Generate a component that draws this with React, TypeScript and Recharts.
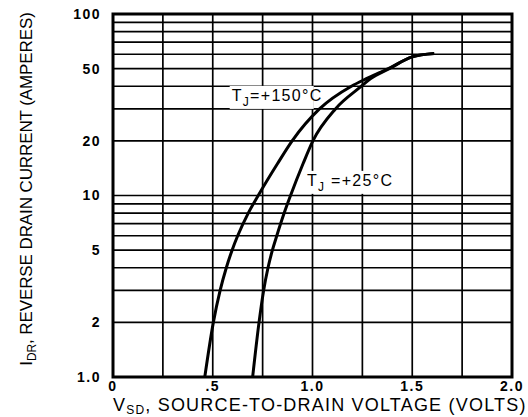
/**
 * Reverse drain current vs source-to-drain voltage (body diode), log current axis.
 * Two junction temperatures, datasheet-style black grid.
 */
import { LineChart, Line, XAxis, YAxis, CartesianGrid, ReferenceArea, ReferenceDot } from "recharts";

// I_DR levels (A) shared by both curves, and V_SD (V)
const currentLevels = [1, 2, 3, 4, 5, 6, 8, 10, 15, 20, 30, 40, 44, 50, 58, 60.5];
const vsd150 = [0.46, 0.503, 0.537, 0.568, 0.597, 0.625, 0.678, 0.728, 0.825, 0.898, 1.035, 1.195, 1.27, 1.38, 1.5, 1.61];
const vsd25 = [0.7, 0.732, 0.755, 0.777, 0.799, 0.821, 0.858, 0.89, 0.953, 1.002, 1.115, 1.245, 1.29, 1.385, 1.5, 1.61];

const xTicks = [0, 0.25, 0.5, 0.75, 1, 1.25, 1.5, 1.75, 2];
const xTickLabels: Record<string, string> = { "0": "0", "0.5": ".5", "1": "1.0", "1.5": "1.5", "2": "2.0" };
const yTicks = [1, 2, 3, 4, 5, 6, 7, 8, 9, 10, 20, 30, 40, 50, 60, 70, 80, 90, 100];
const yTickLabels: Record<string, string> = { "1": "1.0", "2": "2", "5": "5", "10": "10", "20": "20", "50": "50", "100": "100" };

const data150 = currentLevels.map((i, k) => ({ v: vsd150[k], i }));
const data25 = currentLevels.map((i, k) => ({ v: vsd25[k], i }));

const FONT = "'Liberation Sans', Arial, Helvetica, sans-serif";

function TjLabel({ cx, cy, temp, gap, boxW }: any) {
  if (cx == null || cy == null) return null;
  return (
    <g>
      <rect x={cx - 2} y={cy - 15} width={boxW} height={23} fill="#fff" />
      <text x={cx} y={cy} fontSize={16} fontFamily={FONT} fill="#000" letterSpacing={1.3}>
        T
        <tspan dy={5} fontSize={12}>J</tspan>
        <tspan dy={-5}>{gap ? " " : ""}={temp}°C</tspan>
      </text>
    </g>
  );
}

function XTitle({ viewBox }: any) {
  const { x, y } = viewBox;
  return (
    <text x={x} y={y + 34} fontSize={18} fontFamily={FONT} fill="#000" letterSpacing={1.2}>
      V<tspan dy={3} fontSize={12}>SD</tspan>
      <tspan dy={-3}>, SOURCE-TO-DRAIN VOLTAGE (VOLTS)</tspan>
    </text>
  );
}

function YTitle() {
  const cy = 189;
  return (
    <text x={32} y={cy} transform={`rotate(-90, 32, ${cy})`} textAnchor="middle" fontSize={17} fontFamily={FONT} fill="#000" letterSpacing={-0.1}>
      I<tspan dy={4} fontSize={12}>DR</tspan>
      <tspan dy={-4}>, REVERSE DRAIN CURRENT (AMPERES)</tspan>
    </text>
  );
}

export default function App() {
  return (
    <div style={{ position: "absolute", left: 0, top: 0, background: "#fff" }}>
      <LineChart width={528} height={417} margin={{ top: 14, right: 16, left: 0, bottom: 0 }}>
        <CartesianGrid stroke="#000" strokeWidth={1.7} />
        <XAxis
          dataKey="v"
          type="number"
          domain={[0, 2]}
          ticks={xTicks}
          interval={0}
          height={40}
          tickLine={false}
          axisLine={false}
          tickSize={0}
          tickMargin={4}
          tickFormatter={(t: number) => xTickLabels[String(t)] ?? ""}
          tick={{ fill: "#000", fontSize: 14, fontWeight: 700, fontFamily: FONT, letterSpacing: 1.5 }}
          allowDataOverflow
          label={{ content: XTitle }}
        />
        <YAxis
          dataKey="i"
          scale="log"
          domain={[1, 100]}
          ticks={yTicks}
          interval={0}
          width={113}
          tickLine={false}
          axisLine={false}
          tickSize={0}
          tickMargin={12}
          tickFormatter={(t: number) => yTickLabels[String(t)] ?? ""}
          tick={{ fill: "#000", fontSize: 14, fontWeight: 700, fontFamily: FONT, letterSpacing: 1.5 }}
          allowDataOverflow
          label={{ content: YTitle }}
        />
        <ReferenceDot x={0.595} y={33.2} r={0} zIndex={50} shape={(p: any) => <TjLabel {...p} temp="+150" boxW={84} />} />
        <ReferenceDot x={0.972} y={11.3} r={0} zIndex={50} shape={(p: any) => <TjLabel {...p} temp="+25" gap boxW={89} />} />
        <Line data={data150} dataKey="i" type="monotone" stroke="#000" strokeWidth={3} dot={false} isAnimationActive={false} />
        <Line data={data25} dataKey="i" type="monotone" stroke="#000" strokeWidth={3} dot={false} isAnimationActive={false} />
        <ReferenceArea x1={0} x2={2} y1={1} y2={100} fill="none" stroke="#000" strokeWidth={3} />
      </LineChart>
    </div>
  );
}
